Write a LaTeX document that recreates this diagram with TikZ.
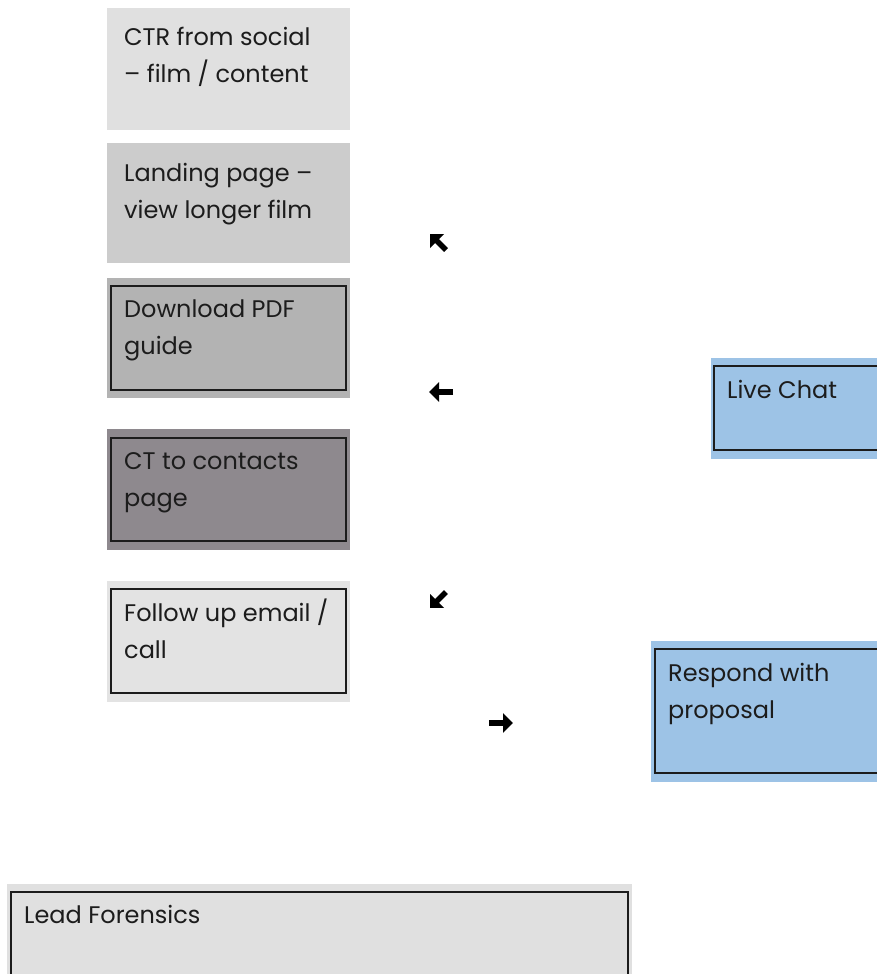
\documentclass[tikz,border=0pt]{standalone}
\usepackage{fontspec}
\setmainfont{Poppins}
\usetikzlibrary{arrows.meta}
\definecolor{gA}{HTML}{E0E0E0}
\definecolor{gB}{HTML}{CCCCCC}
\definecolor{gC}{HTML}{B3B3B3}
\definecolor{gD}{HTML}{8E898E}
\definecolor{gE}{HTML}{E3E3E3}
\definecolor{bl}{HTML}{9DC3E6}
\definecolor{ink}{HTML}{1C1C1C}
\tikzset{
  frame/.style={draw=ink, line width=1.3pt},
  lbl/.style={anchor=base west, align=left, inner sep=0pt, text=ink,
    font=\fontsize{24}{37}\selectfont},
  bigarrow/.style={line width=5.5pt, -{Triangle[length=10pt,width=19pt]}}
}
\begin{document}
\begin{tikzpicture}[x=1pt,y=-1pt]
\useasboundingbox (0,0) rectangle (877,974);
% boxes
\fill[gA] (107,8) rectangle (350,130);
\fill[gB] (107,143) rectangle (350,263);
\fill[gC] (107,278) rectangle (350,398);
\draw[frame] (111,286) rectangle (346,390);
\fill[gD] (107,429) rectangle (350,550);
\draw[frame] (111,438) rectangle (346,541);
\fill[gE] (107,581) rectangle (350,702);
\draw[frame] (111,589) rectangle (346,693);
\fill[bl] (711,358) rectangle (880,459);
\draw[frame] (714,366) rectangle (880,450);
\fill[bl] (651,641) rectangle (880,782);
\draw[frame] (655,649) rectangle (880,773);
\fill[gA] (7,884) rectangle (632,980);
\draw[frame] (11,892) rectangle (628,980);
% labels (base anchor = baseline of last line)
\node[lbl] (ctr) at (124,82) {CTR from social\\– film / content};
\node[lbl] (land) at (124,218) {Landing page –\\view longer film};
\node[lbl] (pdf) at (124,354) {Download PDF\\guide};
\node[lbl] (ct) at (124,506) {CT to contacts\\page};
\node[lbl] (fol) at (124,658) {Follow up email /\\call};
\node[lbl] (live) at (727,398) {Live Chat};
\node[lbl] (resp) at (668,718) {Respond with\\proposal};
\node[lbl] (lead) at (24,923) {Lead Forensics};
% free-standing arrow glyphs
\draw[bigarrow] (446,250) -- (430,234);
\draw[bigarrow] (453,392) -- (429,392);
\draw[bigarrow] (446,592) -- (430,608);
\draw[bigarrow] (489,723) -- (513,723);
\end{tikzpicture}
\end{document}
